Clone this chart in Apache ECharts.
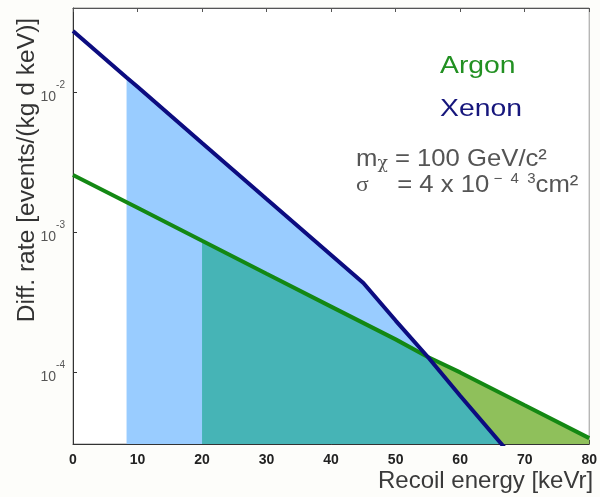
<!DOCTYPE html>
<html>
<head>
<meta charset="utf-8">
<script src="https://cdn.jsdelivr.net/npm/echarts@6/dist/echarts.min.js"></script>
<style>
html, body { margin: 0; padding: 0; background: #fdfdfa; }
#chart { width: 600px; height: 497px; }
</style>
</head>
<body>
<div id="chart"></div>
<script>
// recoil energy [keVr] and differential rate [events/(kg d keV)]
var xenonEnergy = [0, 8.3, 10, 20, 30, 40, 45, 50, 55, 60, 70];
var xenonRate = [2.73e-2, 1.27e-2, 1.09e-2, 4.32e-3, 1.72e-3, 6.86e-4, 4.32e-4, 2.33e-4, 1.28e-4, 6.76e-5, 1.96e-5];
var argonEnergy = [0, 10, 20, 30, 40, 50, 55, 60, 70, 80];
var argonRate = [2.55e-3, 1.49e-3, 8.65e-4, 5.03e-4, 2.93e-4, 1.71e-4, 1.28e-4, 9.93e-5, 5.78e-5, 3.37e-5];
var xenonThreshold = 8.3;
var argonThreshold = 20;
var crossEnergy = 55;
var yMin = 3.06e-5;
var yMax = 0.0398;

var chart = echarts.init(document.getElementById('chart'))

function pairs(xs, ys, lo, hi) {
  var out = []
  for (var i = 0; i < xs.length; i++) {
    if (xs[i] >= lo && xs[i] <= hi) out.push([xs[i], ys[i]])
  }
  return out
}

var xenonLine = pairs(xenonEnergy, xenonRate, -1, 1000)
var argonLine = pairs(argonEnergy, argonRate, -1, 1000)
var xenonFill = pairs(xenonEnergy, xenonRate, xenonThreshold, 1000)
var argonFill = pairs(argonEnergy, argonRate, argonThreshold, 1000)
// both detectors see it: below the lower of the two curves
var bothFill = pairs(argonEnergy, argonRate, argonThreshold, crossEnergy)
  .concat(pairs(xenonEnergy, xenonRate, crossEnergy + 0.01, 1000))

function fillSeries(data, color) {
  return {
    type: 'line',
    data: data,
    showSymbol: false,
    silent: true,
    lineStyle: { width: 0 },
    areaStyle: { color: color, opacity: 1, origin: 'start' }
  }
}

function lineSeries(name, data, color) {
  return {
    name: name,
    type: 'line',
    data: data,
    showSymbol: false,
    lineStyle: { width: 4, color: color }
  }
}

var sansFont = '"Liberation Sans", Arial, sans-serif'

var option = {
  backgroundColor: '#fdfdfa',
  animation: false,
  grid: {
    left: 73, top: 8, right: 9, bottom: 53,
    show: true, backgroundColor: '#ffffff', borderColor: '#999', borderWidth: 1
  },
  xAxis: [{
    type: 'value',
    min: 0, max: 80, interval: 10,
    axisLine: { show: true, onZero: false, lineStyle: { color: '#333', width: 1 } },
    axisTick: { show: true, inside: true, length: 4, lineStyle: { color: '#333' } },
    splitLine: { show: false },
    axisLabel: { margin: 9, fontSize: 14, fontWeight: 'bold', color: '#222', fontFamily: sansFont },
    name: 'Recoil energy [keVr]',
    nameLocation: 'end',
    nameGap: 4,
    nameTextStyle: {
      fontSize: 24, color: '#3a3a3a', fontFamily: sansFont,
      align: 'right', verticalAlign: 'top', padding: [25, 0, 0, 0]
    }
  }, {
    type: 'value',
    position: 'top',
    min: 0, max: 80, interval: 10,
    axisLine: { show: true, onZero: false, lineStyle: { color: '#555' } },
    axisTick: { show: true, inside: true, length: 4, lineStyle: { color: '#555' } },
    axisLabel: { show: false },
    splitLine: { show: false }
  }],
  yAxis: {
    type: 'log',
    logBase: 10,
    min: yMin, max: yMax,
    axisLine: { show: true, onZero: false, lineStyle: { color: '#333', width: 1 } },
    axisTick: { show: true, inside: true, length: 4, lineStyle: { color: '#333' } },
    splitLine: { show: false },
    axisLabel: {
      margin: 8,
      color: '#555',
      fontFamily: sansFont,
      showMinLabel: false,
      showMaxLabel: false,
      formatter: function(v) {
        var e = Math.log10(v)
        var r = Math.round(e)
        if (Math.abs(e - r) > 1e-6) return ''
        return '{b|10}{s|' + r + '}'
      },
      rich: {
        b: { fontSize: 14, color: '#555', fontFamily: sansFont, lineHeight: 24, verticalAlign: 'bottom' },
        s: { fontSize: 10, color: '#555', fontFamily: sansFont, lineHeight: 24, verticalAlign: 'top' }
      }
    }
  },
  graphic: [{
    type: 'text',
    x: 27, y: 170,
    rotation: Math.PI / 2,
    style: {
      text: 'Diff. rate [events/(kg d keV)]',
      fill: '#333', font: '24.6px ' + sansFont,
      textAlign: 'center', textVerticalAlign: 'middle'
    }
  }, {
    type: 'text',
    x: 440, y: 66, scaleX: 1.18,
    style: {
      text: 'Argon', fill: '#229022', font: '24px ' + sansFont,
      textAlign: 'left', textVerticalAlign: 'middle'
    }
  }, {
    type: 'text',
    x: 440, y: 109, scaleX: 1.18,
    style: {
      text: 'Xenon', fill: '#16167c', font: '24px ' + sansFont,
      textAlign: 'left', textVerticalAlign: 'middle'
    }
  }, {
    type: 'text',
    x: 356, y: 159, scaleX: 1.07,
    style: {
      text: '{t|m}{c|χ}{t| = 100 GeV/c²}',
      textAlign: 'left', textVerticalAlign: 'middle',
      rich: {
        t: { fontSize: 24, fill: '#555', fontFamily: sansFont, lineHeight: 26, verticalAlign: 'middle' },
        c: { fontSize: 16, fill: '#555', fontFamily: '"DejaVu Serif", serif', lineHeight: 22, verticalAlign: 'bottom' }
      }
    }
  }, {
    type: 'text',
    x: 356, y: 185, scaleX: 1.07,
    style: {
      text: '{g|σ}{t|    = 4 x 10}{u| −  4  3}{t|cm²}',
      textAlign: 'left', textVerticalAlign: 'middle',
      rich: {
        t: { fontSize: 24, fill: '#555', fontFamily: sansFont, lineHeight: 26, verticalAlign: 'middle' },
        g: { fontSize: 22, fill: '#555', fontFamily: '"Liberation Serif", serif', lineHeight: 26, verticalAlign: 'middle' },
        u: { fontSize: 14, fill: '#555', fontFamily: sansFont, lineHeight: 26, verticalAlign: 'top' }
      }
    }
  }],
  series: [
    fillSeries(argonFill, '#8fc05b'),
    fillSeries(xenonFill, '#99ccff'),
    fillSeries(bothFill, '#46b4b6'),
    lineSeries('Argon', argonLine, '#138813'),
    lineSeries('Xenon', xenonLine, '#0c0c80')
  ]
}

chart.setOption(option)
</script>
</body>
</html>
